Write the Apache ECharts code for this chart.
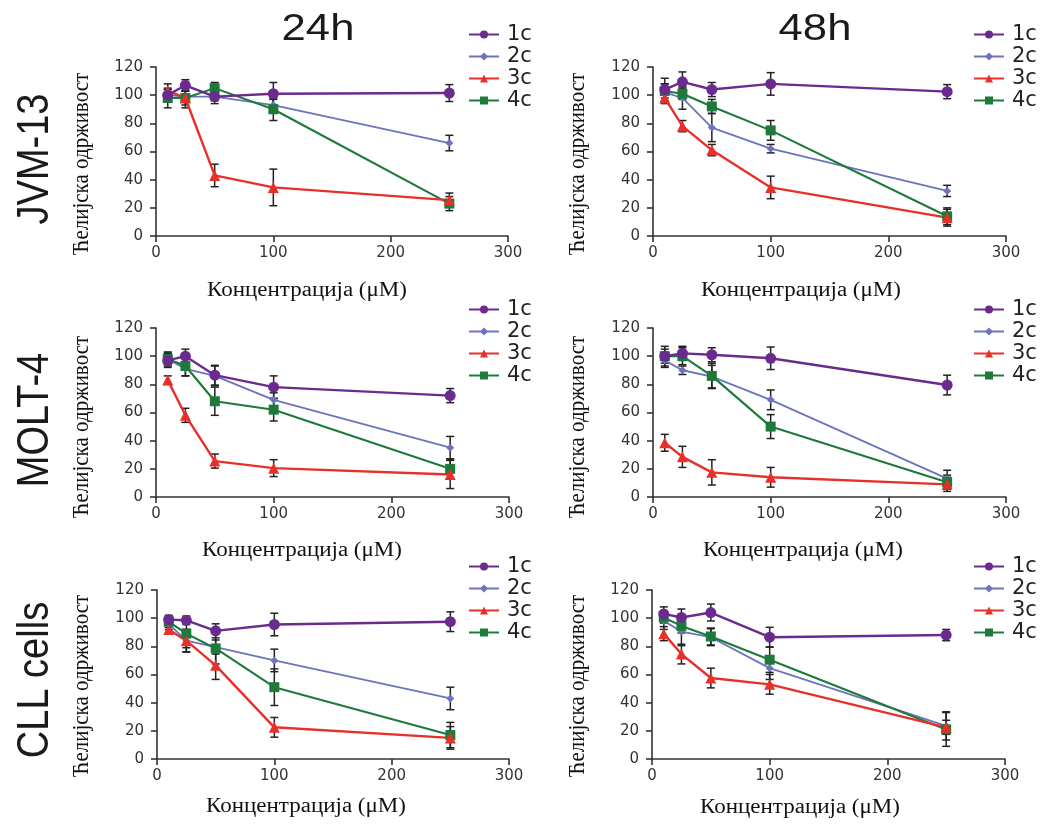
<!DOCTYPE html>
<html>
<head>
<meta charset="utf-8">
<script src="https://cdn.jsdelivr.net/npm/echarts@6/dist/echarts.min.js"></script>
<style>
html,body{margin:0;padding:0;background:#fff;}
#chart{width:1046px;height:827px;}
</style>
</head>
<body>
<div id="chart"></div>
<script>
// ---------- DATA ----------
const CONC = [10, 25, 50, 100, 250];
const SERIES_NAMES = ['1c', '2c', '3c', '4c'];
const ROW_LABELS = ['JVM-13', 'MOLT-4', 'CLL cells'];
const COL_LABELS = ['24h', '48h'];
const X_TICKS = [0, 100, 200, 300];
const Y_TICKS = [0, 20, 40, 60, 80, 100, 120];
const Y_NAME = 'Ћелијска одрживост';
const X_NAME = 'Концентрација (μM)';

const jvm13_24h_mean = [
  [100, 107, 99, 101, 101.5],
  [100, 99, 99, 93, 66],
  [103, 98, 43, 34.5, 25.5],
  [98, 98, 105, 90, 23]
];
const jvm13_24h_err = [
  [4, 4, 5, 8, 6],
  [4, 4, 3, 4, 5.5],
  [5, 5, 8, 13, 5],
  [7, 7, 4, 8, 5]
];
const jvm13_48h_mean = [
  [104, 109.5, 104, 108, 102.5],
  [102, 98, 77, 62, 32],
  [98, 78, 61, 34.5, 13],
  [103, 101, 92, 75, 14]
];
const jvm13_48h_err = [
  [8, 7, 5, 8, 5],
  [6, 8, 10, 3, 4],
  [4, 4, 4, 8, 6],
  [5, 4, 5, 7, 6]
];
const molt4_24h_mean = [
  [97, 100, 86.5, 78, 72],
  [98, 91, 86, 69, 35],
  [83, 58, 25.5, 20.5, 16],
  [98, 93, 68, 62, 20]
];
const molt4_24h_err = [
  [5, 5, 7, 8, 5],
  [4, 5, 7, 5, 8],
  [3, 5, 5, 6, 10],
  [5, 7, 10, 8, 7]
];
const molt4_48h_mean = [
  [100, 102, 101, 98.5, 79.5],
  [97, 90, 85.5, 69, 13],
  [38.5, 28.5, 17.5, 14, 9],
  [100, 100, 86, 50, 10.5]
];
const molt4_48h_err = [
  [7, 5, 5, 8, 7],
  [5, 3, 8, 7, 6],
  [6, 7.5, 9, 7, 5],
  [5, 6, 9, 8.5, 5]
];
const cll_24h_mean = [
  [99, 98.5, 91, 95.5, 97.5],
  [96, 84, 79.5, 70, 43],
  [92, 84, 66.5, 22.5, 15],
  [97.5, 89, 78.5, 51, 17]
];
const cll_24h_err = [
  [3, 3, 5, 8, 7],
  [4, 8, 5, 8, 8],
  [3, 8, 10, 7, 8],
  [4, 10, 11, 13, 9]
];
const cll_48h_mean = [
  [103, 100.5, 104, 86.5, 88],
  [98, 90.5, 86.5, 64.5, 23.5],
  [89, 74.5, 57.5, 53, 22.5],
  [100.5, 94.5, 87, 70.5, 21]
];
const cll_48h_err = [
  [5, 6, 6, 7, 4],
  [6, 10, 6, 8, 10],
  [5, 7, 7, 7, 5],
  [4, 5, 6, 9, 12]
];

// ---------- STYLE / LAYOUT ----------
const PANEL_DATA = [
  [jvm13_24h_mean, jvm13_24h_err], [jvm13_48h_mean, jvm13_48h_err],
  [molt4_24h_mean, molt4_24h_err], [molt4_48h_mean, molt4_48h_err],
  [cll_24h_mean, cll_24h_err], [cll_48h_mean, cll_48h_err]
];
const GRID_POS = [
  {left: 156, top: 67, width: 352, height: 169},
  {left: 653, top: 67, width: 353, height: 169},
  {left: 156, top: 328, width: 353, height: 169},
  {left: 653, top: 328, width: 353, height: 169},
  {left: 157, top: 590, width: 352, height: 169},
  {left: 652, top: 590, width: 353, height: 169}
];
const LEGEND_POS = [
  {left: 468, top: 24}, {left: 973, top: 24},
  {left: 468, top: 299}, {left: 973, top: 299},
  {left: 468, top: 556}, {left: 973, top: 556}
];
const COLORS = ['#6b2a8e', '#6c73bf', '#e8302a', '#1d7a3a'];
const SYMBOLS = ['circle', 'diamond', 'triangle', 'rect'];
const SYM_SIZE = [11, 8, 11, 10];
const LINE_W = [2.4, 1.8, 2.4, 2.1];
const DRAW_ORDER = [1, 3, 2, 0];

const grids = [], xAxes = [], yAxes = [], series = [], legends = [];
GRID_POS.forEach((g, i) => {
  grids.push(Object.assign({outerBoundsMode: 'none', containLabel: false}, g));
  xAxes.push({
    type: 'value', gridIndex: i, min: X_TICKS[0], max: X_TICKS[X_TICKS.length - 1],
    interval: X_TICKS[1] - X_TICKS[0],
    axisLine: {show: true, onZero: false, lineStyle: {color: '#333', width: 1.6}},
    axisTick: {show: true, length: 6, lineStyle: {color: '#333', width: 1.6}},
    axisLabel: {color: '#333', fontFamily: 'DejaVu Sans', fontSize: 15, margin: 10},
    splitLine: {show: false}
  });
  yAxes.push({
    type: 'value', gridIndex: i, min: Y_TICKS[0], max: Y_TICKS[Y_TICKS.length - 1],
    interval: Y_TICKS[1] - Y_TICKS[0],
    axisLine: {show: true, onZero: false, lineStyle: {color: '#333', width: 1.6}},
    axisTick: {show: true, length: 6, lineStyle: {color: '#333', width: 1.6}},
    axisLabel: {color: '#333', fontFamily: 'DejaVu Sans', fontSize: 15, margin: 13},
    splitLine: {show: false}
  });
  const [mean, err] = PANEL_DATA[i];
  // error bars
  DRAW_ORDER.forEach(s => {
    series.push({
      type: 'custom', xAxisIndex: i, yAxisIndex: i, z: 2, silent: true,
      data: CONC.map((c, k) => [c, mean[s][k], err[s][k]]),
      encode: {x: 0, y: 1},
      renderItem: function (params, api) {
        const x = api.value(0), m = api.value(1), e = api.value(2);
        const hi = api.coord([x, m + e]);
        const lo = api.coord([x, m - e]);
        const cw = 4;
        const st = {stroke: '#222', lineWidth: 1.5};
        return {
          type: 'group',
          children: [
            {type: 'line', shape: {x1: hi[0], y1: hi[1], x2: lo[0], y2: lo[1]}, style: st},
            {type: 'line', shape: {x1: hi[0] - cw, y1: hi[1], x2: hi[0] + cw, y2: hi[1]}, style: st},
            {type: 'line', shape: {x1: lo[0] - cw, y1: lo[1], x2: lo[0] + cw, y2: lo[1]}, style: st}
          ]
        };
      }
    });
  });
  DRAW_ORDER.forEach(s => {
    series.push({
      type: 'line', name: SERIES_NAMES[s], xAxisIndex: i, yAxisIndex: i, z: 3,
      data: CONC.map((c, k) => [c, mean[s][k]]),
      symbol: SYMBOLS[s], symbolSize: SYM_SIZE[s], showSymbol: true,
      itemStyle: {color: COLORS[s]},
      lineStyle: {color: COLORS[s], width: LINE_W[s]}
    });
  });
  legends.push({
    data: SERIES_NAMES.slice(), orient: 'vertical', left: LEGEND_POS[i].left, top: LEGEND_POS[i].top,
    itemWidth: 30, itemHeight: 10, itemGap: 1, padding: 0, selectedMode: false,
    textStyle: {fontFamily: 'DejaVu Sans', fontSize: 21, color: '#222', lineHeight: 20, padding: [0, 0, 0, 3]}
  });
});

// text elements
const graphics = [];
const serif = 'Liberation Serif, Times New Roman, serif';
const sans = 'Liberation Sans, Arial, sans-serif';
const COL_X = [318, 815];
COL_LABELS.forEach((t, i) => graphics.push({
  type: 'text', x: COL_X[i], y: 30, scaleX: 1.18,
  style: {text: t, font: '37px ' + sans, fill: '#1a1a1a', textAlign: 'center', textVerticalAlign: 'middle'}
}));
const ROW_Y = [159, 420, 680];
ROW_LABELS.forEach((t, i) => graphics.push({
  type: 'text', x: 36, y: ROW_Y[i], rotation: Math.PI / 2, scaleY: 1.18,
  style: {text: t, font: '38px ' + sans, fill: '#1a1a1a', textAlign: 'center', textVerticalAlign: 'middle'}
}));
const YNAME_POS = [[82, 164], [578, 164], [82, 427], [578, 427], [82, 686], [578, 686]];
YNAME_POS.forEach(p => graphics.push({
  type: 'text', x: p[0], y: p[1], rotation: Math.PI / 2, scaleY: 1.12,
  style: {text: Y_NAME, font: '21px ' + serif, fill: '#111', textAlign: 'center', textVerticalAlign: 'middle'}
}));
const XNAME_POS = [[307, 291], [801, 291], [302, 551], [803, 551], [306, 807], [800, 808]];
XNAME_POS.forEach(p => graphics.push({
  type: 'text', x: p[0], y: p[1], scaleX: 1.15,
  style: {text: X_NAME, font: '20px ' + serif, fill: '#111', textAlign: 'center', textVerticalAlign: 'middle'}
}));

const chart = echarts.init(document.getElementById('chart'), null, {renderer: 'canvas'});
chart.setOption({
  animation: false,
  backgroundColor: '#fff',
  grid: grids, xAxis: xAxes, yAxis: yAxes, series: series, legend: legends,
  graphic: graphics
});
</script>
</body>
</html>
